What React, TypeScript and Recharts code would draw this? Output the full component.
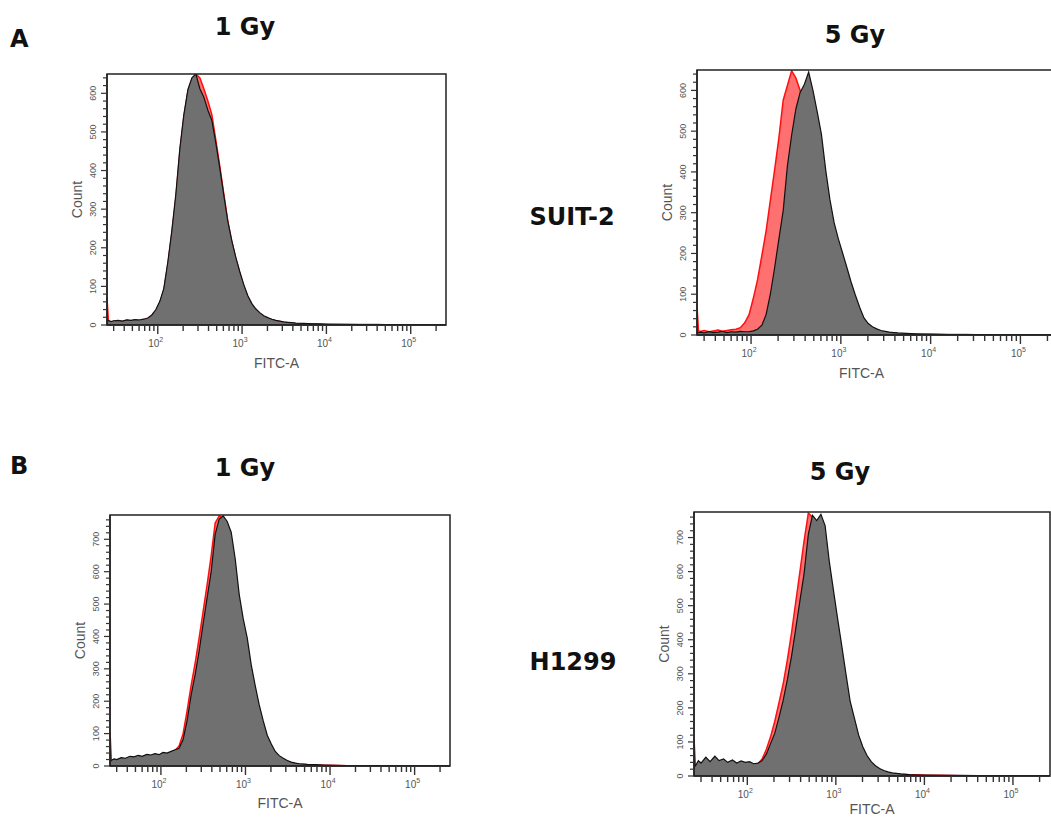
import { AreaChart, Area, XAxis, YAxis, ReferenceArea } from 'recharts';

// FITC-A bin centres shared by all four histograms
const fitcBins = [
  25, 26, 28, 30, 34, 38, 43, 48, 54, 60,
  68, 76, 85, 95, 106, 118, 132, 147, 164, 183,
  204, 228, 254, 283, 316, 352, 393, 438, 489, 545,
  608, 678, 756, 843, 940, 1050, 1170, 1300, 1450, 1620,
  1810, 2020, 2250, 2510, 2800, 3120, 3480, 3880, 4330, 5400,
  6700, 8400, 10500, 16000, 25000, 40000, 63000, 100000, 160000, 262144,
];

// SUIT-2, 1 Gy
const a1Ctrl = [
  70, 10, 8, 10, 11, 9, 12, 11, 13, 12,
  14, 16, 24, 37, 58, 90, 158, 238, 330, 450,
  540, 606, 636, 650, 640, 612, 580, 545, 478, 410,
  338, 268, 215, 172, 135, 100, 73, 54, 40, 30,
  22, 17, 14, 11, 9, 7, 6, 5, 4, 3,
  3, 2, 2, 1, 1, 1, 0, 0, 0, 0,
];
const a1Irr = [
  8, 12, 9, 11, 12, 10, 13, 12, 14, 13,
  15, 18, 26, 40, 62, 95, 165, 245, 340, 458,
  545, 610, 640, 650, 612, 590, 556, 530, 470, 405,
  335, 268, 218, 175, 138, 104, 76, 56, 42, 32,
  24, 19, 15, 12, 10, 8, 7, 6, 5, 4,
  3, 3, 2, 2, 1, 1, 1, 0, 0, 0,
];

// SUIT-2, 5 Gy
const a5Ctrl = [
  70, 10, 9, 11, 8, 10, 12, 9, 11, 13,
  14, 18, 30, 50, 90, 135, 195, 255, 330, 405,
  483, 576, 612, 648, 630, 600, 560, 505, 450, 390,
  330, 270, 215, 170, 135, 105, 80, 60, 45, 33,
  24, 18, 13, 10, 8, 6, 5, 4, 3, 3,
  2, 2, 1, 1, 1, 0, 0, 0, 0, 0,
];
const a5Irr = [
  8, 6, 7, 5, 8, 6, 7, 9, 6, 8,
  7, 9, 8, 8, 10, 14, 24, 50, 100, 165,
  235, 305, 415, 490, 555, 595, 615, 645, 600, 548,
  492, 405, 332, 275, 235, 200, 165, 130, 98, 68,
  42, 28, 20, 15, 11, 9, 7, 6, 5, 4,
  3, 2, 2, 1, 1, 1, 0, 0, 0, 0,
];

// H1299, 1 Gy
const b1Ctrl = [
  105, 15, 20, 18, 24, 22, 28, 26, 31, 28,
  34, 32, 36, 33, 40, 38, 43, 48, 62, 100,
  170, 250, 318, 395, 478, 560, 650, 750, 772, 765,
  740, 700, 610, 505, 430, 370, 290, 230, 175, 128,
  86, 60, 40, 28, 20, 15, 10, 8, 6, 4,
  3, 2, 2, 1, 1, 0, 0, 0, 0, 0,
];
const b1Irr = [
  12, 18, 22, 20, 26, 24, 30, 28, 33, 30,
  36, 34, 38, 35, 42, 40, 45, 50, 55, 82,
  140, 220, 282, 355, 440, 520, 600, 715, 762, 772,
  755, 722, 640, 530, 455, 395, 312, 250, 190, 140,
  95, 68, 45, 32, 24, 17, 12, 9, 7, 5,
  4, 3, 2, 1, 1, 1, 0, 0, 0, 0,
];

// H1299, 5 Gy
const b5Ctrl = [
  110, 25, 40, 34, 50, 38, 52, 40, 46, 36,
  43, 34, 40, 36, 38, 33, 36, 50, 78, 115,
  160, 215, 270, 340, 420, 510, 600, 690, 772, 760,
  720, 700, 650, 560, 480, 400, 320, 250, 180, 135,
  95, 65, 45, 32, 22, 16, 12, 9, 7, 5,
  4, 4, 2, 2, 1, 1, 0, 0, 0, 0,
];
const b5Irr = [
  40, 30, 45, 38, 55, 42, 58, 45, 50, 40,
  47, 38, 44, 40, 42, 36, 38, 45, 64, 95,
  125, 172, 222, 282, 352, 432, 515, 595, 710, 765,
  750, 768, 735, 630, 545, 460, 380, 300, 220, 170,
  120, 85, 60, 42, 30, 22, 16, 12, 9, 6,
  4, 3, 3, 2, 2, 1, 1, 1, 1, 0,
];

const xMajor = [100, 1000, 10000, 100000];
const xMajorExp = ['2', '3', '4', '5'];
const X_MIN = 25;
const X_MAX = 262144;

// log axis ticks: 2..9 x each decade, inside the domain
const xTicks: number[] = [];
for (let e = 1; e <= 5; e++) {
  for (let m = 1; m <= 9; m++) {
    const v = m * 10 ** e;
    if (v >= X_MIN && v <= X_MAX) xTicks.push(v);
  }
}

const TICK_FONT = '"Liberation Sans", Arial, sans-serif';
const TITLE_FONT = '"DejaVu Sans", sans-serif';
const ML = 45, MR = 2, MT = 2, MB = 55;

const XTick = (props: any) => {
  const { x, y, payload } = props;
  const idx = xMajor.indexOf(payload.value);
  const major = idx >= 0;
  return (
    <g>
      <line x1={x} x2={x} y1={y} y2={y + (major ? 9 : 6)} stroke="#333" strokeWidth={1.4} />
      {major && (
        <text x={x - 2} y={y + 22} textAnchor="middle" fontSize={10} fill="#555" fontFamily={TICK_FONT}>
          10<tspan dy={-5} fontSize={7}>{xMajorExp[idx]}</tspan>
        </text>
      )}
    </g>
  );
};

const YTick = (props: any) => {
  const { x, y, payload } = props;
  const v = payload.value;
  const major = v % 100 === 0;
  const tx = x - 11;
  return (
    <g>
      <line x1={x} x2={x - (major ? 6 : 4)} y1={y} y2={y} stroke="#333" strokeWidth={1.2} />
      {major && (
        <text x={tx} y={y} transform={`rotate(-90 ${tx} ${y})`} textAnchor="middle" fontSize={9} fill="#555" fontFamily={TICK_FONT}>
          {v}
        </text>
      )}
    </g>
  );
};

type PanelProps = {
  left: number; top: number; right: number; bottom: number;
  yMax: number; ctrl: number[]; irr: number[];
};

const Panel = ({ left, top, right, bottom, yMax, ctrl, irr }: PanelProps) => {
  const width = right - left + ML + MR;
  const height = bottom - top + MT + MB;
  const rows = fitcBins.map((fitc, i) => ({ fitc, ctrl: ctrl[i], irr: irr[i] }));
  const yTicks: number[] = [];
  for (let v = 0; v <= yMax; v += 20) yTicks.push(v);

  return (
    <div style={{ position: 'absolute', left: left - ML, top: top - MT }}>
      <AreaChart width={width} height={height} data={rows} margin={{ top: MT, right: MR, bottom: 0, left: 0 }}>
        <XAxis
          dataKey="fitc"
          type="number"
          scale="log"
          domain={[X_MIN, X_MAX]}
          allowDataOverflow
          ticks={xTicks}
          interval={0}
          tick={<XTick />}
          tickLine={false}
          tickSize={0}
          tickMargin={0}
          height={MB}
          axisLine={{ stroke: '#222', strokeWidth: 1.5 }}
        />
        <YAxis
          type="number"
          domain={[0, yMax]}
          allowDataOverflow
          ticks={yTicks}
          interval={0}
          tick={<YTick />}
          tickLine={false}
          tickSize={0}
          tickMargin={0}
          width={ML}
          axisLine={{ stroke: '#222', strokeWidth: 1.5 }}
        />
        <Area
          dataKey="ctrl"
          type="linear"
          fill="#ff7070"
          fillOpacity={1}
          stroke="#ff1010"
          strokeWidth={1.5}
          dot={false}
          activeDot={false}
          isAnimationActive={false}
        />
        <Area
          dataKey="irr"
          type="linear"
          fill="#707070"
          fillOpacity={1}
          stroke="#111"
          strokeWidth={1.2}
          dot={false}
          activeDot={false}
          isAnimationActive={false}
        />
        <ReferenceArea x1={X_MIN} x2={X_MAX} y1={0} y2={yMax} fill="none" stroke="#222" strokeWidth={1.5} />
      </AreaChart>
    </div>
  );
};

const panels = [
  { key: 'a1', left: 107, top: 74, right: 446, bottom: 325, yMax: 650, ctrl: a1Ctrl, irr: a1Irr, labelDx: 0, labelDy: 43 },
  { key: 'a5', left: 697, top: 70, right: 1058, bottom: 335, yMax: 650, ctrl: a5Ctrl, irr: a5Irr, labelDx: -16, labelDy: 43 },
  { key: 'b1', left: 110, top: 515, right: 450, bottom: 766, yMax: 775, ctrl: b1Ctrl, irr: b1Irr, labelDx: 0, labelDy: 42 },
  { key: 'b5', left: 694, top: 512, right: 1050, bottom: 776, yMax: 775, ctrl: b5Ctrl, irr: b5Irr, labelDx: 0, labelDy: 38 },
];

const titles = [
  { text: 'A', x: 10, y: 47, anchor: 'start' },
  { text: '1 Gy', x: 245, y: 35, anchor: 'middle' },
  { text: '5 Gy', x: 855, y: 43, anchor: 'middle' },
  { text: 'SUIT-2', x: 572, y: 225, anchor: 'middle' },
  { text: 'B', x: 10, y: 474, anchor: 'start' },
  { text: '1 Gy', x: 245, y: 476, anchor: 'middle' },
  { text: '5 Gy', x: 840, y: 480, anchor: 'middle' },
  { text: 'H1299', x: 573, y: 670, anchor: 'middle' },
];

export default function App() {
  return (
    <div style={{ position: 'absolute', left: 0, top: 0, width: 1051, height: 820, overflow: 'hidden', background: '#fff' }}>
      {panels.map(({ key, labelDx, labelDy, ...p }) => (
        <Panel key={key} {...p} />
      ))}
      <svg width={1051} height={820} style={{ position: 'absolute', left: 0, top: 0, pointerEvents: 'none' }}>
        {titles.map((t, i) => (
          <text key={i} x={t.x} y={t.y} textAnchor={t.anchor as any} fontSize={24} fontWeight="bold" fontFamily={TITLE_FONT} fill="#111">
            {t.text}
          </text>
        ))}
        {panels.map((p) => {
          const cx = p.left - 25;
          const cy = (p.top + p.bottom) / 2;
          return (
            <g key={p.key}>
              <text x={cx} y={cy} transform={`rotate(-90 ${cx} ${cy})`} textAnchor="middle" fontSize={14} fill="#555" fontFamily={TICK_FONT}>
                Count
              </text>
              <text x={(p.left + p.right) / 2 + p.labelDx} y={p.bottom + p.labelDy} textAnchor="middle" fontSize={14} fill="#555" fontFamily={TICK_FONT}>
                FITC-A
              </text>
            </g>
          );
        })}
      </svg>
    </div>
  );
}
